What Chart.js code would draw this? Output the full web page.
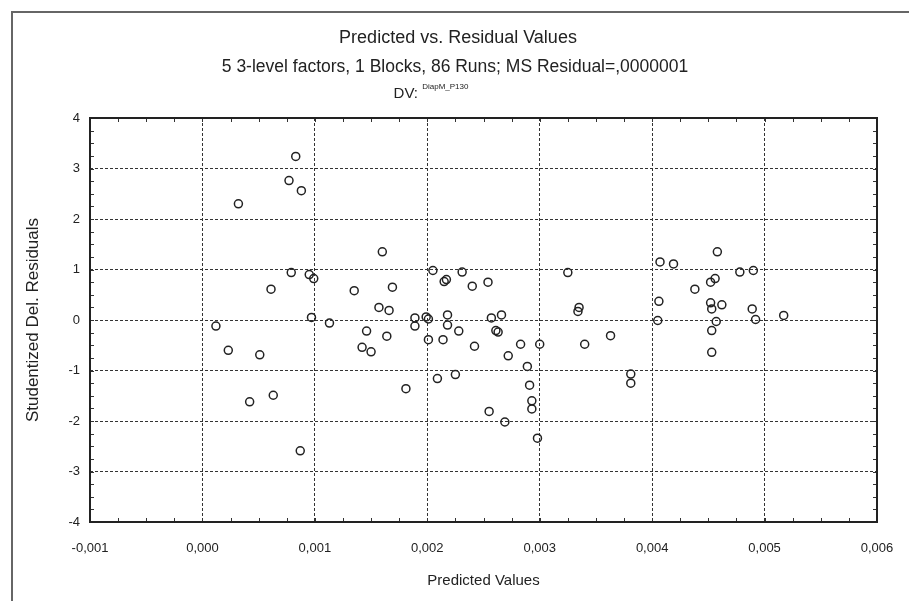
<!DOCTYPE html>
<html>
<head>
<meta charset="utf-8">
<script src="https://cdn.jsdelivr.net/npm/chart.js@4"></script>
<style>
  html, body { margin: 0; padding: 0; background: #fff; }
  #wrap { position: relative; width: 909px; height: 601px; }
  #frame { position: absolute; left: 11px; top: 11px; right: 0; bottom: 0;
           border-left: 2px solid #666; border-top: 2px solid #666; pointer-events: none; }
</style>
</head>
<body>
<div id="wrap">
  <canvas id="chart" width="909" height="601"></canvas>
  <div id="frame"></div>
</div>
<script>
// 予測値
const predicted = [
  0.00083, 0.00077, 0.00088, 0.00032, 0.00079, 0.00095, 0.00099, 0.00061, 0.00135, 0.00097,
  0.00113, 0.00012, 0.00023, 0.00051, 0.00142, 0.00042, 0.00063, 0.00087, 0.00160, 0.00169,
  0.00157, 0.00166, 0.00205, 0.00217, 0.00215, 0.00231, 0.00240, 0.00254, 0.00325, 0.00335,
  0.00334, 0.00146, 0.00150, 0.00164, 0.00189, 0.00189, 0.00199, 0.00201, 0.00201, 0.00214,
  0.00218, 0.00218, 0.00228, 0.00242, 0.00257, 0.00266, 0.00261, 0.00263, 0.00283, 0.00300,
  0.00272, 0.00289, 0.00209, 0.00225, 0.00181, 0.00291, 0.00293, 0.00293, 0.00255, 0.00269,
  0.00298, 0.00340, 0.00363, 0.00381, 0.00381, 0.00405, 0.00406, 0.00452, 0.00453, 0.00462,
  0.00457, 0.00453, 0.00453, 0.00489, 0.00492, 0.00517, 0.00407, 0.00419, 0.00458, 0.00478,
  0.00490, 0.00438, 0.00452, 0.00456
];
// スチューデント化残差
const residuals = [
  3.24, 2.76, 2.56, 2.30, 0.94, 0.90, 0.82, 0.61, 0.58, 0.05,
  -0.06, -0.12, -0.60, -0.69, -0.54, -1.62, -1.49, -2.59, 1.35, 0.65,
  0.25, 0.19, 0.98, 0.80, 0.76, 0.95, 0.67, 0.75, 0.94, 0.25,
  0.17, -0.22, -0.63, -0.32, 0.04, -0.12, 0.06, 0.02, -0.39, -0.39,
  0.10, -0.10, -0.22, -0.52, 0.04, 0.10, -0.21, -0.24, -0.48, -0.48,
  -0.71, -0.92, -1.16, -1.08, -1.36, -1.29, -1.60, -1.76, -1.81, -2.02,
  -2.34, -0.48, -0.31, -1.07, -1.25, -0.01, 0.37, 0.34, 0.22, 0.30,
  -0.03, -0.21, -0.64, 0.22, 0.01, 0.09, 1.15, 1.11, 1.35, 0.95,
  0.98, 0.61, 0.75, 0.82
];

const xMin = -0.001, xMax = 0.006, xStep = 0.001;
const yMin = -4, yMax = 4, yStep = 1;

const titleText = 'Predicted vs. Residual Values';
const subtitleText = '5 3-level factors, 1 Blocks, 86 Runs; MS Residual=,0000001';
const dvLabel = 'DV:';
const dvName = 'DiapM_P130';
const xTitle = 'Predicted Values';
const yTitle = 'Studentized Del. Residuals';

const FONT = '"Liberation Sans", Arial, sans-serif';

const points = predicted.map((p, i) => ({ x: p, y: residuals[i] }));

// タイトル・枠・小目盛りの描画
const framePlugin = {
  id: 'framePlugin',
  afterDraw(chart) {
    const ctx = chart.ctx;
    const a = chart.chartArea;
    const xs = chart.scales.x, ys = chart.scales.y;
    ctx.save();
    ctx.strokeStyle = '#333';
    ctx.lineWidth = 1;
    ctx.beginPath();
    for (let v = xMin; v <= xMax + 1e-9; v += xStep / 4) {
      const px = Math.round(xs.getPixelForValue(v)) + 0.5;
      ctx.moveTo(px, a.top); ctx.lineTo(px, a.top + 4);
      ctx.moveTo(px, a.bottom); ctx.lineTo(px, a.bottom - 4);
    }
    for (let v = yMin; v <= yMax + 1e-9; v += yStep / 4) {
      const py = Math.round(ys.getPixelForValue(v)) + 0.5;
      ctx.moveTo(a.left, py); ctx.lineTo(a.left + 4, py);
      ctx.moveTo(a.right, py); ctx.lineTo(a.right - 4, py);
    }
    ctx.stroke();
    ctx.strokeStyle = '#222';
    ctx.lineWidth = 2;
    ctx.strokeRect(a.left, a.top, a.right - a.left, a.bottom - a.top);

    // タイトル
    ctx.fillStyle = '#222';
    ctx.textAlign = 'center';
    ctx.textBaseline = 'middle';
    ctx.font = '18px ' + FONT;
    ctx.fillText(titleText, 458, 38);
    ctx.font = '17.5px ' + FONT;
    ctx.fillText(subtitleText, 455, 67);

    // DV: 行
    ctx.textAlign = 'left';
    ctx.textBaseline = 'alphabetic';
    ctx.font = '15px ' + FONT;
    const w1 = ctx.measureText(dvLabel + ' ').width;
    ctx.font = '8px ' + FONT;
    const w2 = ctx.measureText(dvName).width;
    const x0 = 431 - (w1 + w2) / 2;
    ctx.font = '15px ' + FONT;
    ctx.fillText(dvLabel, x0, 98);
    ctx.font = '8px ' + FONT;
    ctx.fillText(dvName, x0 + w1, 89);
    ctx.restore();
  }
};

const ctx = document.getElementById('chart').getContext('2d');
const chart = new Chart(ctx, {
  type: 'scatter',
  data: {
    datasets: [{
      data: points,
      pointStyle: 'circle',
      pointRadius: 4,
      pointHoverRadius: 4,
      pointBorderWidth: 1.5,
      borderColor: '#222',
      backgroundColor: 'rgba(0,0,0,0)'
    }]
  },
  options: {
    responsive: false,
    animation: false,
    events: [],
    layout: { padding: { left: 0, right: 32, top: 118, bottom: 0 } },
    plugins: {
      legend: { display: false },
      tooltip: { enabled: false },
      title: { display: false }
    },
    scales: {
      x: {
        type: 'linear',
        min: xMin,
        max: xMax,
        afterFit: s => { s.height = 79; s.paddingRight = 0; s.paddingLeft = 0; },
        ticks: {
          stepSize: xStep,
          color: '#222',
          padding: 19,
          maxRotation: 0,
          font: { family: FONT, size: 13 },
          callback: v => (Math.round(v * 1000) / 1000).toFixed(3).replace('.', ',')
        },
        grid: { color: '#333', lineWidth: 1, drawTicks: false },
        border: { display: false, dash: [3, 2] },
        title: {
          display: true,
          text: xTitle,
          color: '#222',
          font: { family: FONT, size: 15 },
          padding: { top: 0, bottom: 11 }
        }
      },
      y: {
        type: 'linear',
        min: yMin,
        max: yMax,
        afterFit: s => { s.width = 90; },
        ticks: {
          stepSize: yStep,
          color: '#222',
          padding: 10,
          font: { family: FONT, size: 13 }
        },
        grid: { color: '#333', lineWidth: 1, drawTicks: false },
        border: { display: false, dash: [3, 2] },
        title: {
          display: true,
          text: yTitle,
          color: '#222',
          font: { family: FONT, size: 17 },
          padding: { top: 23, bottom: 0 }
        }
      }
    }
  },
  plugins: [framePlugin]
});
</script>
</body>
</html>
